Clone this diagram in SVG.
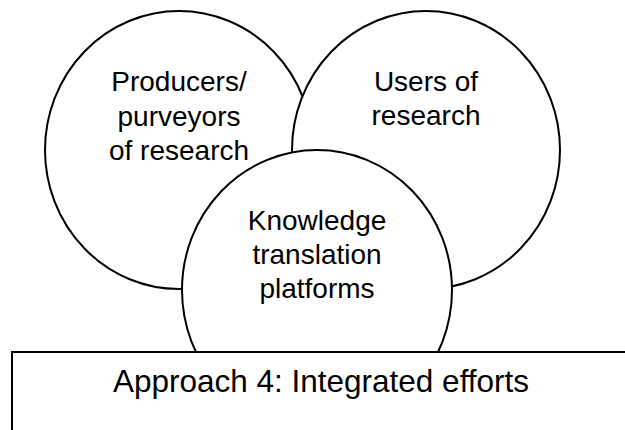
<svg xmlns="http://www.w3.org/2000/svg" width="625" height="430" viewBox="0 0 625 430">
<style>
.shape{fill:#fff;stroke:#000;stroke-width:2}
.lbl{font-family:"Liberation Sans",Arial,sans-serif;font-size:28px;fill:#000;text-anchor:middle}
.big{font-size:31.5px}
</style>
<rect width="625" height="430" fill="#fff"/>
<g id="producers">
<ellipse class="shape" cx="179" cy="150" rx="134" ry="139"/>
<text class="lbl" x="179" y="91">Producers/</text>
<text class="lbl" x="179" y="125.5">purveyors</text>
<text class="lbl" x="179" y="160">of research</text>
</g>
<g id="users">
<ellipse class="shape" cx="426" cy="150" rx="134" ry="139"/>
<text class="lbl" x="426" y="91">Users of</text>
<text class="lbl" x="426" y="125">research</text>
</g>
<g id="knowledge">
<ellipse class="shape" cx="317" cy="290" rx="135" ry="140"/>
<text class="lbl" x="317" y="230">Knowledge</text>
<text class="lbl" x="317" y="264">translation</text>
<text class="lbl" x="317" y="298">platforms</text>
</g>
<g id="approach">
<rect class="shape" x="12" y="352" width="630" height="100"/>
<text class="lbl big" x="321" y="392">Approach 4: Integrated efforts</text>
</g>
<g id="connectors"/>
</svg>
